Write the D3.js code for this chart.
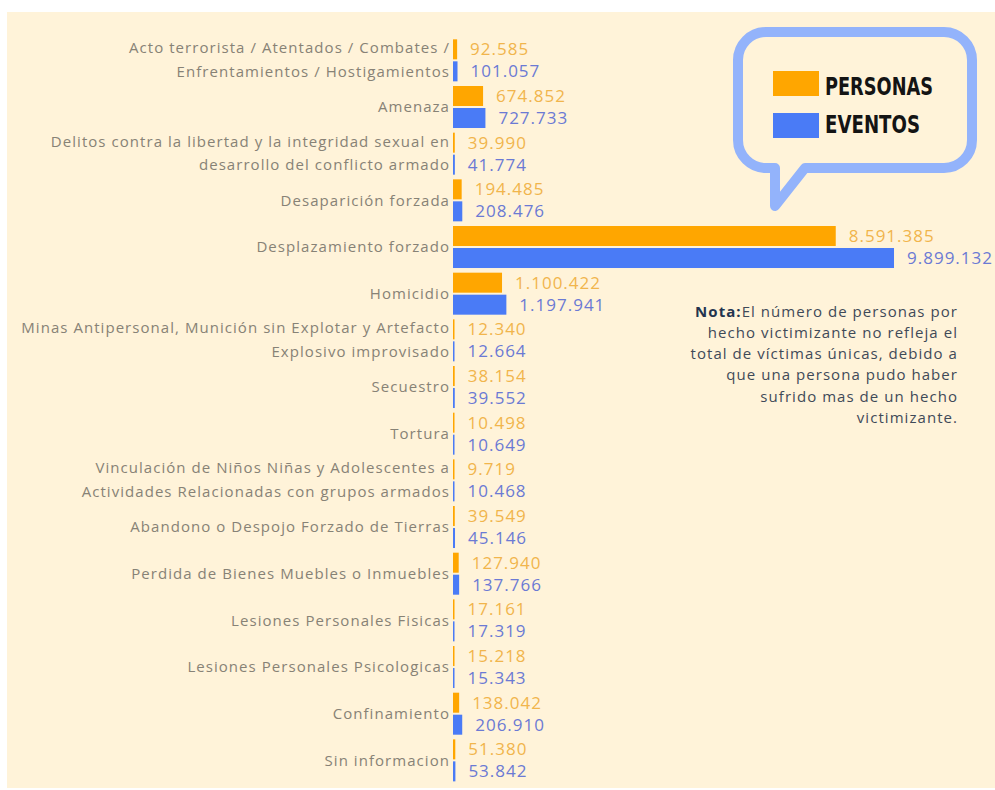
<!DOCTYPE html>
<html><head><meta charset="utf-8">
<script src="https://cdn.jsdelivr.net/npm/d3@7"></script>
<style>
html,body{margin:0;padding:0;background:#fff;}
svg{display:block;}
</style></head>
<body>
<svg id="chart" width="995" height="790"></svg>
<script>
const categories = [
  "Acto terrorista / Atentados / Combates /\nEnfrentamientos / Hostigamientos",
  "Amenaza",
  "Delitos contra la libertad y la integridad sexual en\ndesarrollo del conflicto armado",
  "Desaparición forzada",
  "Desplazamiento forzado",
  "Homicidio",
  "Minas Antipersonal, Munición sin Explotar y Artefacto\nExplosivo improvisado",
  "Secuestro",
  "Tortura",
  "Vinculación de Niños Niñas y Adolescentes a\nActividades Relacionadas con grupos armados",
  "Abandono o Despojo Forzado de Tierras",
  "Perdida de Bienes Muebles o Inmuebles",
  "Lesiones Personales Fisicas",
  "Lesiones Personales Psicologicas",
  "Confinamiento",
  "Sin informacion"
];
const personas = [92585, 674852, 39990, 194485, 8591385, 1100422, 12340, 38154, 10498, 9719, 39549, 127940, 17161, 15218, 138042, 51380];
const eventos  = [101057, 727733, 41774, 208476, 9899132, 1197941, 12664, 39552, 10649, 10468, 45146, 137766, 17319, 15343, 206910, 53842];
const seriesKeys = ["personas", "eventos"];
const legendLabels = ["PERSONAS", "EVENTOS"];
const noteBold = "Nota:";
const noteLines = [
  "El número de personas por",
  "hecho victimizante no refleja el",
  "total de víctimas únicas, debido a",
  "que una persona pudo haber",
  "sufrido mas de un hecho",
  "victimizante."
];

const BG = "#fff3d9";
const barColors = {personas: "#ffa600", eventos: "#4a7bf6"};
const labelColors = {personas: "#f1b54c", eventos: "#6b7ad4"};
const catColor = "#878276";

const svg = d3.select("#chart");
svg.append("rect").attr("x", 7).attr("y", 12).attr("width", 988).attr("height", 776).attr("fill", BG);

const loc = d3.formatLocale({decimal: ",", thousands: ".", grouping: [3], currency: ["", ""]});
const fmt = loc.format(",d");

const x = d3.scaleLinear().domain([0, 10000000]).range([453, 898.5]);
const y = d3.scaleBand().domain(categories).range([37, 783.7]).paddingInner(0.1).paddingOuter(0.05);
const ySub = d3.scaleBand().domain(seriesKeys).range([0, y.bandwidth()]).paddingInner(2 / 22);

const rows = categories.map((c, i) => ({cat: c, personas: personas[i], eventos: eventos[i]}));

const g = svg.append("g");
const grp = g.selectAll("g.row").data(rows).join("g").attr("class", "row")
  .attr("transform", d => `translate(0,${y(d.cat)})`);

seriesKeys.forEach(k => {
  grp.append("rect")
    .attr("x", x(0))
    .attr("y", ySub(k))
    .attr("height", ySub.bandwidth())
    .attr("width", d => Math.max(x(d[k]) - x(0), 1.5))
    .attr("fill", barColors[k]);
  grp.append("text")
    .attr("x", d => x(0) + Math.max(x(d[k]) - x(0), 1.5) + 13)
    .attr("y", ySub(k) + ySub.bandwidth() / 2)
    .attr("dy", "0.36em")
    .attr("fill", labelColors[k])
    .style("font-family", "'Open Sans', sans-serif")
    .style("font-size", "17px")
    .style("letter-spacing", "1px")
    .text(d => fmt(d[k]));
});

// category labels
grp.each(function(d) {
  const lines = d.cat.split("\n");
  const t = d3.select(this).append("text")
    .attr("text-anchor", "end")
    .attr("fill", catColor)
    .style("font-family", "'Open Sans', sans-serif")
    .style("font-size", "15px")
    .style("letter-spacing", "1.05px");
  if (lines.length === 1) {
    t.append("tspan").attr("x", 450).attr("y", y.bandwidth() / 2).attr("dy", "0.36em").text(lines[0]);
  } else {
    lines.forEach((ln, j) => {
      t.append("tspan").attr("x", 450)
        .attr("y", ySub(seriesKeys[j]) + ySub.bandwidth() / 2 - (j === 0 ? 1.5 : 0))
        .attr("dy", "0.36em").text(ln);
    });
  }
});

// legend bubble
const L = 738, R = 972, T = 32, B = 168, r = 28;
const p = d3.path();
p.moveTo(L + r, T);
p.lineTo(R - r, T);
p.arcTo(R, T, R, T + r, r);
p.lineTo(R, B - r);
p.arcTo(R, B, R - r, B, r);
p.lineTo(805, B);
p.lineTo(775, 206);
p.lineTo(775, B);
p.lineTo(L + r, B);
p.arcTo(L, B, L, B - r, r);
p.lineTo(L, T + r);
p.arcTo(L, T, L + r, T, r);
p.closePath();
svg.append("path").attr("d", p.toString()).attr("fill", BG)
  .attr("stroke", "#93b3fb").attr("stroke-width", 10).attr("stroke-linejoin", "round");

const leg = svg.append("g");
seriesKeys.forEach((k, i) => {
  leg.append("rect").attr("x", 773).attr("y", 71 + i * 42).attr("width", 46).attr("height", 25).attr("fill", barColors[k]);
  leg.append("text").attr("x", 825).attr("y", 95 + i * 38)
    .attr("fill", "#141414")
    .attr("textLength", i === 0 ? 108 : 95).attr("lengthAdjust", "spacingAndGlyphs")
    .style("font-family", "'DejaVu Sans Condensed', 'DejaVu Sans', sans-serif")
    .style("font-weight", "bold")
    .style("font-size", "24px")
    .text(legendLabels[i]);
});

// note
const note = svg.append("text").attr("text-anchor", "end")
  .style("font-family", "'Open Sans', sans-serif")
  .style("font-size", "15px")
  .style("letter-spacing", "1.05px")
  .attr("fill", "#3f4a58");
noteLines.forEach((ln, i) => {
  const ts = note.append("tspan").attr("x", 958).attr("y", 316.5 + i * 21.3);
  if (i === 0) {
    ts.append("tspan").style("font-weight", "bold").attr("fill", "#23344f").text(noteBold);
    ts.append("tspan").text(ln);
  } else {
    ts.text(ln);
  }
});
</script>
</body></html>
